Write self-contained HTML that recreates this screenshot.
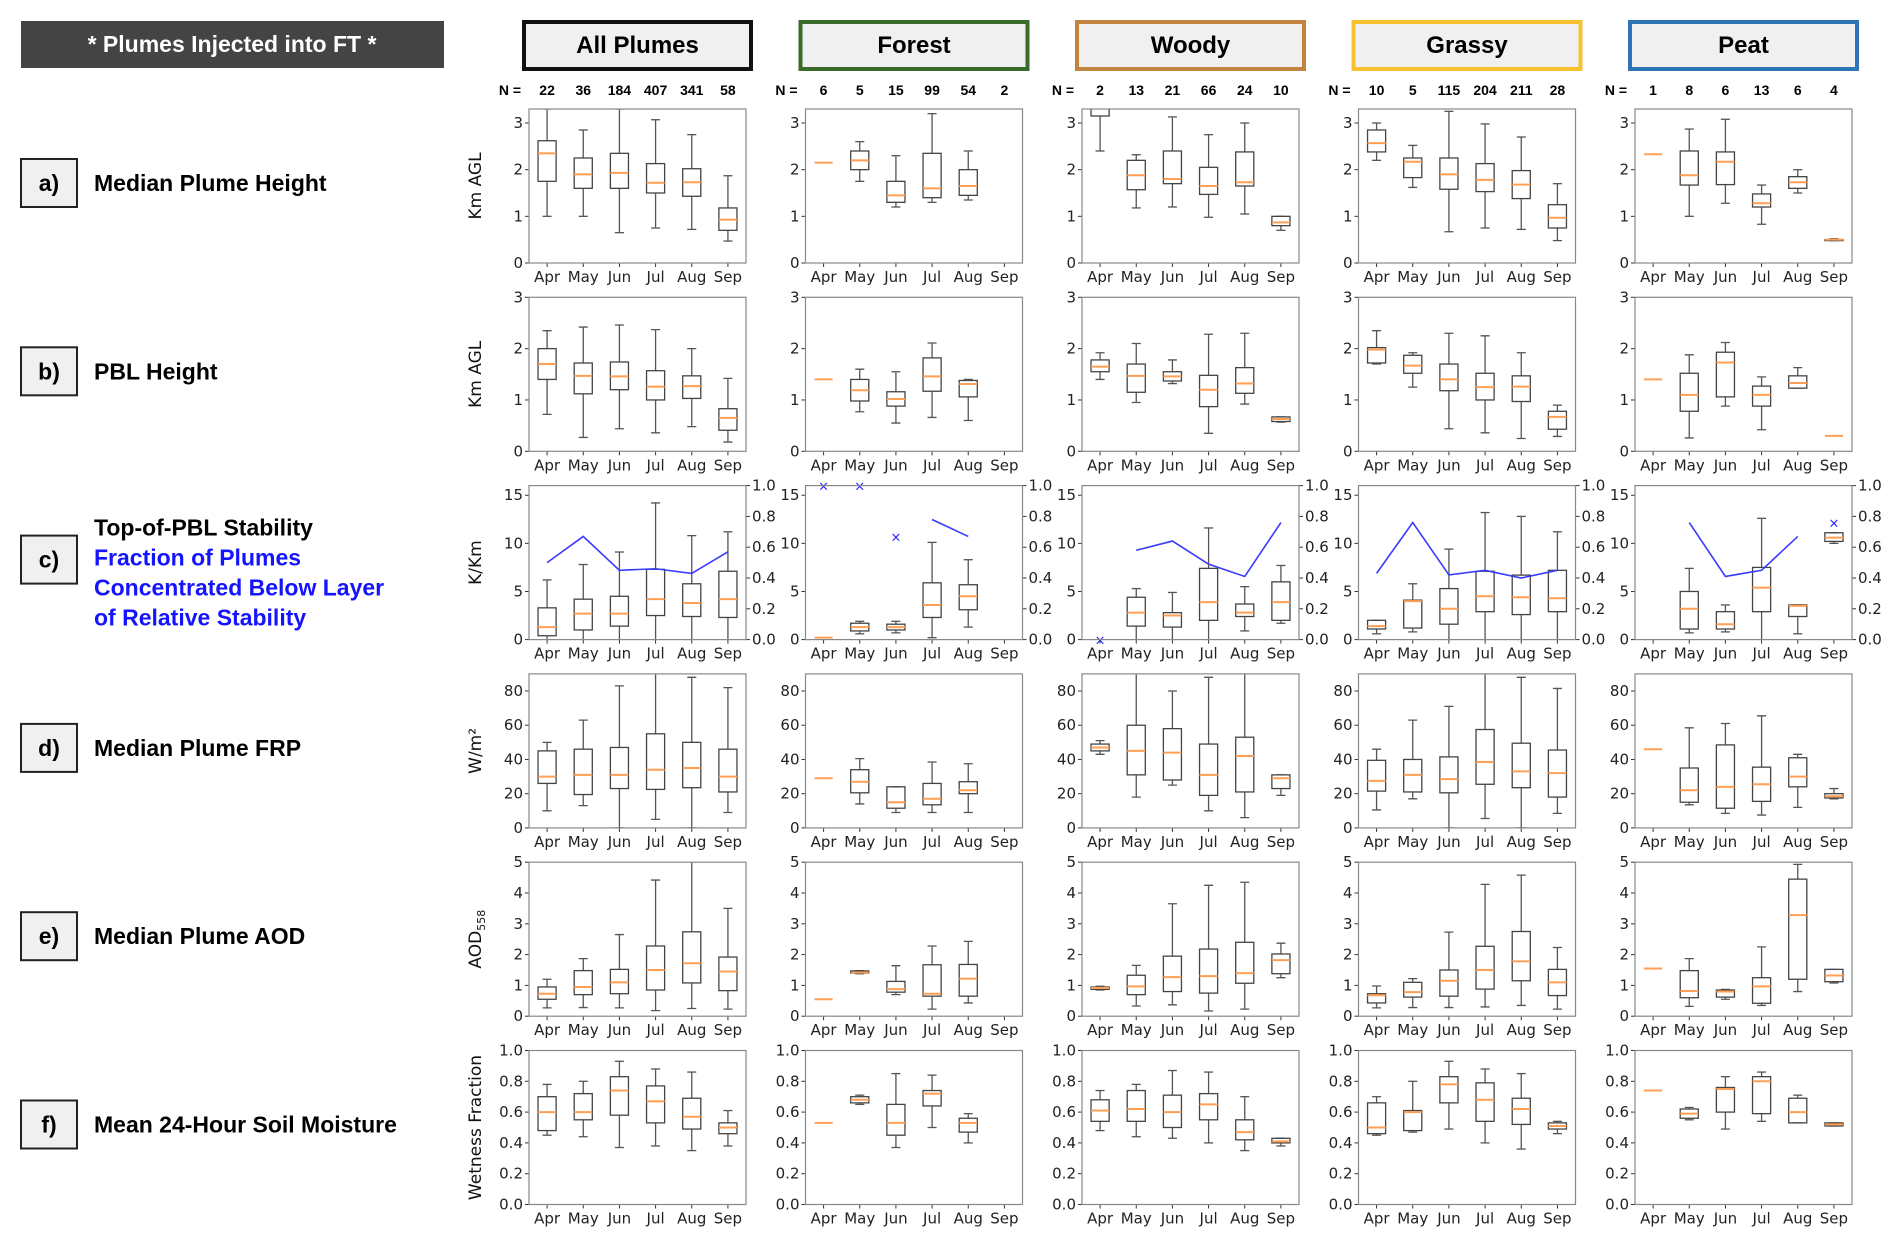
<!DOCTYPE html>
<html><head><meta charset="utf-8">
<style>
html,body{margin:0;padding:0;background:#fff;}
svg{display:block;}
text{font-family:"DejaVu Sans","Liberation Sans",sans-serif;}
.b{font-family:"Liberation Sans",sans-serif;font-weight:bold;}
</style></head>
<body>
<svg id="fig" width="1892" height="1237" viewBox="0 0 1892 1237" xmlns="http://www.w3.org/2000/svg">
<rect x="21" y="21" width="423" height="47" fill="#444"/>
<text x="232" y="52" text-anchor="middle" class="b" font-size="23" fill="#fff">* Plumes Injected into FT *</text>
</svg>
<script>
const months=['Apr','May','Jun','Jul','Aug','Sep'];
const colNames=['All Plumes','Forest','Woody','Grassy','Peat'];
const colColors=['#111111','#3b6b2a','#c0843f','#f7c12f','#2e75b6'];
const nAll=[22,36,184,407,341,58];
const nForest=[6,5,15,99,54,2];
const nWoody=[2,13,21,66,24,10];
const nGrassy=[10,5,115,204,211,28];
const nPeat=[1,8,6,13,6,4];
const rowLetters=['a)','b)','c)','d)','e)','f)'];
const rowTitles=['Median Plume Height','PBL Height','Top-of-PBL Stability','Median Plume FRP','Median Plume AOD','Mean 24-Hour Soil Moisture'];
const yMax=[3.3,3.0,16,90,5,1.0];
const tickA=[0,1,2,3];
const tickB=[0,1,2,3];
const tickC=[0,5,10,15];
const tickD=[0,20,40,60,80];
const tickE=[0,1,2,3,4,5];
const tickF=[0,0.2,0.4,0.6,0.8,1.0];
const tickRight=[0,0.2,0.4,0.6,0.8,1.0];
// [low whisker, q1, median, q3, high whisker]
const heightAll=[[1.0,1.75,2.35,2.62,3.3],[1.0,1.6,1.9,2.25,2.85],[0.65,1.6,1.93,2.35,3.3],[0.75,1.5,1.72,2.13,3.07],[0.72,1.43,1.73,2.02,2.75],[0.47,0.7,0.93,1.18,1.87]];
const heightForest=[[2.15,2.15,2.15,2.15,2.15],[1.75,2.0,2.2,2.4,2.6],[1.2,1.3,1.45,1.75,2.3],[1.3,1.4,1.6,2.35,3.2],[1.35,1.45,1.65,2.0,2.4],null];
const heightWoody=[[2.4,3.15,3.4,3.5,3.6],[1.18,1.57,1.88,2.2,2.32],[1.2,1.7,1.8,2.4,3.13],[0.98,1.47,1.65,2.05,2.75],[1.05,1.65,1.73,2.38,3.0],[0.7,0.8,0.87,1.0,1.0]];
const heightGrassy=[[2.2,2.38,2.57,2.85,3.0],[1.62,1.83,2.17,2.25,2.52],[0.67,1.58,1.9,2.25,3.25],[0.75,1.53,1.78,2.13,2.98],[0.72,1.38,1.68,1.98,2.7],[0.48,0.75,0.97,1.25,1.7]];
const heightPeat=[[2.33,2.33,2.33,2.33,2.33],[1.0,1.67,1.88,2.4,2.87],[1.28,1.68,2.17,2.38,3.08],[0.83,1.2,1.28,1.48,1.67],[1.5,1.6,1.73,1.85,2.0],[0.48,0.48,0.5,0.5,0.52]];
const pblAll=[[0.72,1.4,1.7,2.0,2.35],[0.27,1.12,1.47,1.72,2.42],[0.44,1.2,1.46,1.74,2.46],[0.36,1.0,1.26,1.57,2.37],[0.48,1.03,1.27,1.47,2.0],[0.18,0.41,0.65,0.83,1.42]];
const pblForest=[[1.4,1.4,1.4,1.4,1.4],[0.77,0.98,1.19,1.4,1.6],[0.55,0.88,1.02,1.16,1.55],[0.66,1.17,1.46,1.82,2.11],[0.6,1.06,1.31,1.38,1.4],null];
const pblWoody=[[1.4,1.55,1.65,1.78,1.92],[0.95,1.15,1.47,1.7,2.1],[1.32,1.37,1.46,1.55,1.78],[0.35,0.87,1.2,1.48,2.28],[0.92,1.13,1.32,1.63,2.3],[0.57,0.58,0.63,0.67,0.67]];
const pblGrassy=[[1.7,1.72,1.98,2.02,2.35],[1.25,1.52,1.67,1.87,1.92],[0.44,1.18,1.4,1.7,2.3],[0.36,1.0,1.25,1.52,2.25],[0.25,0.97,1.26,1.47,1.92],[0.29,0.43,0.67,0.78,0.9]];
const pblPeat=[[1.4,1.4,1.4,1.4,1.4],[0.26,0.78,1.1,1.52,1.88],[0.88,1.06,1.73,1.93,2.12],[0.42,0.88,1.1,1.27,1.45],[1.23,1.23,1.33,1.47,1.63],[0.3,0.3,0.3,0.3,0.3]];
const stabAll=[[0,0.4,1.3,3.3,6.2],[0,1.0,2.7,4.2,7.8],[0,1.4,2.7,4.5,9.1],[0,2.5,4.2,7.3,14.2],[0,2.4,3.8,5.8,10.8],[0,2.3,4.2,7.1,11.2]];
const stabForest=[[0.2,0.2,0.2,0.2,0.2],[0.6,0.9,1.3,1.7,1.9],[0.7,1.0,1.3,1.6,1.9],[0.2,2.3,3.6,5.9,10.1],[1.3,3.1,4.5,5.7,8.3],null];
const stabWoody=[null,[0,1.4,2.8,4.4,5.3],[0,1.3,2.5,2.8,4.9],[0,2.0,3.9,7.4,11.6],[0.9,2.4,2.8,3.7,5.5],[1.7,2.0,3.9,6.0,7.7]];
const stabGrassy=[[0.6,1.1,1.4,2.0,2.0],[0.8,1.2,4.0,4.1,5.8],[0,1.6,3.2,5.3,9.4],[0,2.9,4.5,7.1,13.2],[0,2.6,4.4,6.7,12.8],[0,2.9,4.3,7.2,11.2]];
const stabPeat=[null,[0.7,1.1,3.2,5.0,7.4],[0.8,1.1,1.6,2.9,3.6],[0,2.9,5.4,7.5,12.6],[0.6,2.4,3.5,3.6,3.6],[10,10.2,10.6,11.1,11.1]];
// fraction of plumes below stable layer (right axis): line values and isolated markers
const fracLineAll=[0.5,0.67,0.45,0.46,0.43,0.57];
const fracLineForest=[null,null,null,0.78,0.67,null];
const fracLineWoody=[null,0.58,0.64,0.49,0.41,0.76];
const fracLineGrassy=[0.43,0.76,0.42,0.45,0.40,0.45];
const fracLinePeat=[null,0.76,0.41,0.45,0.67,null];
const fracMarkAll=[null,null,null,null,null,null];
const fracMarkForest=[1.0,1.0,0.67,null,null,null];
const fracMarkWoody=[0.0,null,null,null,null,null];
const fracMarkGrassy=[null,null,null,null,null,null];
const fracMarkPeat=[null,null,null,null,null,0.76];
const frpAll=[[10,26,30,45,50],[13,19.5,31,46,63],[0,23,31,47,83],[5,22.5,34,55,92],[0,23.5,35,50,88],[9,21,30,46,82]];
const frpForest=[[29,29,29,29,29],[14,20.5,27,34,40.5],[9,11.5,15,24,24],[9,13.5,17,26,38.5],[9,20,22,27,37.5],null];
const frpWoody=[[43,45,47,49,51],[18,31,45,60,92],[25,28,44,58,80],[10,19,31,49,88],[6,21,42,53,92],[19,23,29,31,31]];
const frpGrassy=[[10.5,21.5,27.5,39.5,46],[17,21,31,40,63],[0,20.5,28.5,41.5,71],[5.5,25.5,38.5,57.5,92],[0,23.5,33,49.5,88],[8.5,18,32,45.5,81.5]];
const frpPeat=[[46,46,46,46,46],[13.5,15,22,35,58.5],[8.5,11.5,24,48.5,61],[7.5,15.5,25.5,35.5,65.5],[12,24,30,41,43],[17,17.5,18.5,20,23]];
const aodAll=[[0.27,0.55,0.73,0.95,1.2],[0.28,0.7,0.95,1.48,1.87],[0.27,0.73,1.1,1.52,2.65],[0.18,0.85,1.5,2.28,4.42],[0.25,1.08,1.72,2.74,5.1],[0.23,0.83,1.45,1.92,3.5]];
const aodForest=[[0.55,0.55,0.55,0.55,0.55],[1.38,1.4,1.42,1.47,1.48],[0.7,0.78,0.88,1.13,1.64],[0.23,0.65,0.73,1.67,2.28],[0.43,0.65,1.22,1.68,2.43],null];
const aodWoody=[[0.85,0.87,0.92,0.95,0.97],[0.33,0.7,0.97,1.33,1.65],[0.37,0.8,1.27,1.95,3.65],[0.17,0.75,1.3,2.18,4.25],[0.23,1.07,1.4,2.4,4.35],[1.25,1.38,1.82,2.02,2.37]];
const aodGrassy=[[0.27,0.43,0.68,0.73,0.98],[0.28,0.62,0.78,1.1,1.22],[0.28,0.65,1.15,1.5,2.73],[0.3,0.88,1.5,2.27,4.28],[0.35,1.15,1.78,2.75,4.58],[0.23,0.67,1.1,1.52,2.23]];
const aodPeat=[[1.55,1.55,1.55,1.55,1.55],[0.32,0.6,0.82,1.48,1.87],[0.55,0.62,0.8,0.85,0.87],[0.35,0.42,0.97,1.25,2.25],[0.8,1.2,3.28,4.45,4.93],[1.08,1.12,1.32,1.52,1.52]];
const soilAll=[[0.45,0.48,0.6,0.7,0.78],[0.44,0.55,0.6,0.72,0.8],[0.37,0.58,0.74,0.83,0.93],[0.38,0.53,0.67,0.77,0.88],[0.35,0.49,0.57,0.69,0.86],[0.38,0.46,0.5,0.53,0.61]];
const soilForest=[[0.53,0.53,0.53,0.53,0.53],[0.65,0.66,0.68,0.7,0.71],[0.37,0.45,0.53,0.65,0.85],[0.5,0.64,0.72,0.74,0.84],[0.4,0.47,0.53,0.56,0.59],null];
const soilWoody=[[0.48,0.54,0.61,0.68,0.74],[0.44,0.54,0.62,0.74,0.78],[0.43,0.5,0.6,0.71,0.87],[0.4,0.55,0.65,0.72,0.86],[0.35,0.42,0.47,0.55,0.7],[0.38,0.4,0.41,0.43,0.43]];
const soilGrassy=[[0.45,0.46,0.5,0.66,0.7],[0.47,0.48,0.6,0.61,0.8],[0.49,0.66,0.78,0.83,0.93],[0.4,0.54,0.68,0.79,0.88],[0.36,0.52,0.62,0.69,0.85],[0.46,0.49,0.51,0.53,0.54]];
const soilPeat=[[0.74,0.74,0.74,0.74,0.74],[0.55,0.56,0.59,0.62,0.63],[0.49,0.6,0.75,0.76,0.83],[0.54,0.59,0.8,0.83,0.86],[0.53,0.53,0.6,0.69,0.71],[0.51,0.51,0.52,0.53,0.53]];

const NS='http://www.w3.org/2000/svg';
const svg=document.getElementById('fig');
function mk(tag,attrs,parent,txt){const e=document.createElementNS(NS,tag);for(const k in attrs)e.setAttribute(k,attrs[k]);if(txt!==undefined)e.textContent=txt;(parent||svg).appendChild(e);return e;}

const nCounts=[nAll,nForest,nWoody,nGrassy,nPeat];
const rowData=[
 [heightAll,heightForest,heightWoody,heightGrassy,heightPeat],
 [pblAll,pblForest,pblWoody,pblGrassy,pblPeat],
 [stabAll,stabForest,stabWoody,stabGrassy,stabPeat],
 [frpAll,frpForest,frpWoody,frpGrassy,frpPeat],
 [aodAll,aodForest,aodWoody,aodGrassy,aodPeat],
 [soilAll,soilForest,soilWoody,soilGrassy,soilPeat]];
const rowTicks=[tickA,tickB,tickC,tickD,tickE,tickF];
const fracLines=[fracLineAll,fracLineForest,fracLineWoody,fracLineGrassy,fracLinePeat];
const fracMarks=[fracMarkAll,fracMarkForest,fracMarkWoody,fracMarkGrassy,fracMarkPeat];
const yLabels=['Km AGL','Km AGL','K/Km','W/m²','AOD','Wetness Fraction'];

const AX0=529, AXSTEP=276.5, AW=217, AY0=109, AYSTEP=188.3, AH=154;

for(let c=0;c<5;c++){
  const L=AX0+c*AXSTEP;
  const g=mk('g',{});
  
  
  mk('rect',{x:L-5,y:22,width:227,height:47,fill:'#f0f0f0',stroke:colColors[c],'stroke-width':4},g);
  mk('text',{x:L-5+113.5,y:53,'text-anchor':'middle','font-size':24,class:'b',fill:'#000'},g,colNames[c]);
  const nl=mk('text',{x:L-19,y:95,'text-anchor':'middle','font-size':14,class:'b'},svg,'N =');
  
  
  for(let i=0;i<6;i++){
    const t=mk('text',{x:L+(i+0.5)*AW/6,y:95,'text-anchor':'middle','font-size':14,class:'b'},svg,String(nCounts[c][i]));
    
    
  }
}

for(let r=0;r<6;r++){
  const cy=AY0+r*AYSTEP+AH/2-3;
  const g=mk('g',{});
  
  
  mk('rect',{x:21,y:cy-24,width:56,height:48,fill:'#f0f0f0',stroke:'#222','stroke-width':2},g);
  mk('text',{x:49,y:cy+8,'text-anchor':'middle','font-size':23,class:'b'},g,rowLetters[r]);
  if(r===2){
    mk('text',{x:94,y:cy-24,'font-size':23,class:'b'},g,rowTitles[r]);
    const blue=['Fraction of Plumes','Concentrated Below Layer','of Relative Stability'];
    blue.forEach((s,k)=>mk('text',{x:94,y:cy+6+k*30,'font-size':23,class:'b',fill:'#1414ff'},g,s));
  } else {
    mk('text',{x:94,y:cy+8,'font-size':23,class:'b'},g,rowTitles[r]);
  }
}

const defs=mk('defs',{});
for(let r=0;r<6;r++){
  for(let c=0;c<5;c++){
    const L=AX0+c*AXSTEP, T=AY0+r*AYSTEP;
    const ymax=yMax[r];
    const xs=i=>L+(i+0.5)*AW/6;
    const ys=v=>T+AH*(1-v/ymax);
    const yr=v=>T+AH*(1-v);
    const cid='clip'+r+'_'+c;
    const cp=mk('clipPath',{id:cid},defs); mk('rect',{x:L,y:T,width:AW,height:AH},cp);
    const g=mk('g',{});
    
    
    rowTicks[r].forEach(t=>{
      mk('line',{x1:L-4,x2:L,y1:ys(t),y2:ys(t),stroke:'#333','stroke-width':1},g);
      const lab=(r===5)?t.toFixed(1):String(t);
      mk('text',{x:L-6,y:ys(t)+5,'text-anchor':'end','font-size':15,fill:'#222'},g,lab);
    });
    months.forEach((m,i)=>{
      mk('line',{x1:xs(i),x2:xs(i),y1:T+AH,y2:T+AH+4,stroke:'#333','stroke-width':1},g);
      mk('text',{x:xs(i),y:T+AH+19,'text-anchor':'middle','font-size':15,fill:'#222'},g,m);
    });
    if(r===2){
      tickRight.forEach(t=>{
        mk('line',{x1:L+AW,x2:L+AW+4,y1:yr(t),y2:yr(t),stroke:'#333','stroke-width':1},g);
        mk('text',{x:L+AW+6,y:yr(t)+5,'font-size':15,fill:'#222'},g,t.toFixed(1));
      });
    }
    const pg=mk('g',{'clip-path':'url(#'+cid+')'},g);
    const data=rowData[r][c];
    const bw=AW/24, cw=AW/48;
    data.forEach((d,i)=>{
      if(!d) return;
      const x=xs(i);
      const bg=mk('g',{},pg);
      
      
      const single=d[0]===d[4];
      if(!single){
        mk('line',{x1:x,x2:x,y1:ys(d[0]),y2:ys(d[1]),stroke:'#555','stroke-width':1.3},bg);
        mk('line',{x1:x,x2:x,y1:ys(d[3]),y2:ys(d[4]),stroke:'#555','stroke-width':1.3},bg);
        mk('line',{x1:x-cw,x2:x+cw,y1:ys(d[0]),y2:ys(d[0]),stroke:'#555','stroke-width':1.3},bg);
        mk('line',{x1:x-cw,x2:x+cw,y1:ys(d[4]),y2:ys(d[4]),stroke:'#555','stroke-width':1.3},bg);
        mk('rect',{x:x-bw,y:ys(d[3]),width:2*bw,height:Math.max(0.5,ys(d[1])-ys(d[3])),fill:'none',stroke:'#444','stroke-width':1.3},bg);
      }
      mk('line',{x1:x-bw,x2:x+bw,y1:ys(d[2]),y2:ys(d[2]),stroke:'#ff9f55','stroke-width':2},bg);
    });
    if(r===2){
      const fl=fracLines[c];
      let pts=[];
      const flush=()=>{ if(pts.length>1){const pl=mk('polyline',{points:pts.join(' '),fill:'none',stroke:'#3a3aff','stroke-width':1.6},pg);} pts=[]; };
      fl.forEach((v,i)=>{ if(v===null){flush();} else pts.push(xs(i)+','+yr(v)); });
      flush();
      fracMarks[c].forEach((v,i)=>{
        if(v===null) return;
        const mg=mk('text',{x:xs(i),y:yr(v)+5,'text-anchor':'middle','font-size':13,fill:'#2020ff'},g,'×');
        
        
      });
    }
    mk('rect',{x:L,y:T,width:AW,height:AH,fill:'none',stroke:'#888','stroke-width':1.2},g);
    if(c===0){
      const cx=481, cy=T+AH/2;
      const yl=mk('text',{x:cx,y:cy,'text-anchor':'middle','font-size':17,fill:'#111',transform:'rotate(-90 '+cx+' '+cy+')'},svg,yLabels[r]);
      if(r===4){ mk('tspan',{'font-size':11,dy:4},yl,'558'); }
      
      
    }
  }
}
</script>
</body></html>
